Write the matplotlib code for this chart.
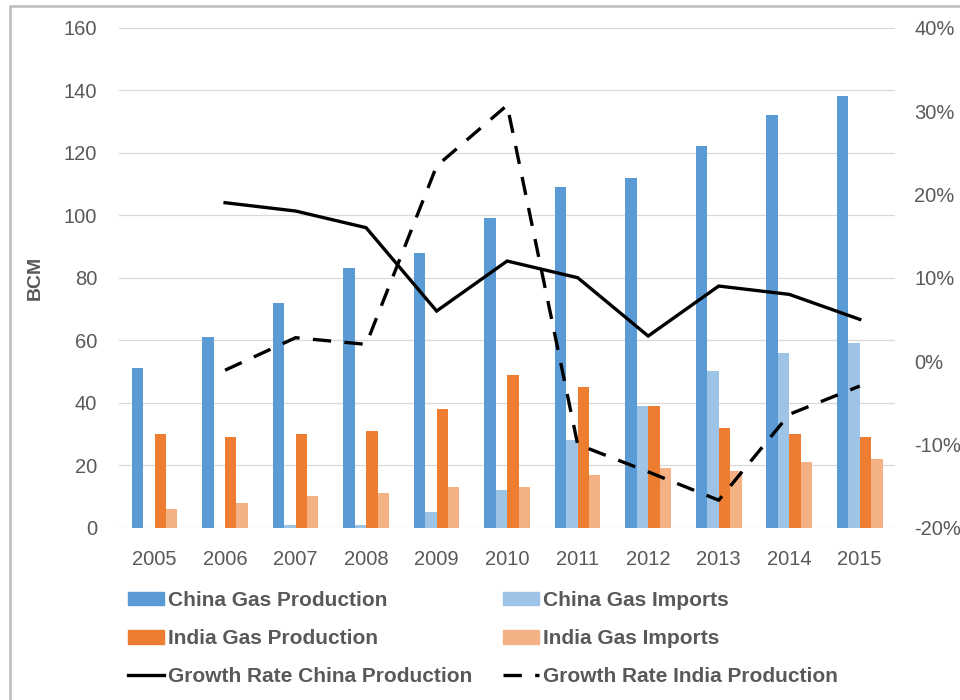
import matplotlib
matplotlib.use("Agg")
import matplotlib.pyplot as plt
import numpy as np
from matplotlib.patches import Rectangle
from matplotlib.lines import Line2D
from matplotlib.ticker import PercentFormatter

plt.rcParams['font.family'] = ['Liberation Sans', 'DejaVu Sans']
plt.rcParams['axes.unicode_minus'] = False

# data
years = ['2005', '2006', '2007', '2008', '2009', '2010',
         '2011', '2012', '2013', '2014', '2015']
china_prod = [51, 61, 72, 83, 88, 99, 109, 112, 122, 132, 138]
china_imp = [0, 0, 1, 1, 5, 12, 28, 39, 50, 56, 59]
india_prod = [30, 29, 30, 31, 38, 49, 45, 39, 32, 30, 29]
india_imp = [6, 8, 10, 11, 13, 13, 17, 19, 18, 21, 22]
# growth rates start in 2006
growth_years = years[1:]
growth_china = [0.19, 0.18, 0.16, 0.06, 0.12, 0.10, 0.03, 0.09, 0.08, 0.05]
growth_india = [-0.011, 0.028, 0.020, 0.234, 0.307, -0.100, -0.133, -0.167, -0.064, -0.030]

c_cp = '#5B9BD5'
c_ci = '#9DC3E6'
c_ip = '#ED7D31'
c_ii = '#F4B183'
grey = '#595959'

W, H = 960, 700
fig = plt.figure(figsize=(W / 100, H / 100), dpi=100)

# plot area in pixels
left, right, top, bottom = 119.3, 895, 27.7, 527.7
ax = fig.add_axes([left / W, 1 - bottom / H, (right - left) / W, (bottom - top) / H])

x = np.arange(len(years))
bw = 0.1617
ax.bar(x - 1.5 * bw, china_prod, bw, color=c_cp, zorder=3)
ax.bar(x - 0.5 * bw, china_imp, bw, color=c_ci, zorder=3)
ax.bar(x + 0.5 * bw, india_prod, bw, color=c_ip, zorder=3)
ax.bar(x + 1.5 * bw, india_imp, bw, color=c_ii, zorder=3)

ax.set_xlim(-0.5, len(years) - 0.5)
ax.set_ylim(0, 160)
ax.set_yticks(range(0, 161, 20))
ax.set_xticks(x)
ax.set_xticklabels(years)
ax.grid(axis='y', color='#D9D9D9', lw=0.9, zorder=0)
ax.set_axisbelow(True)
for s in ax.spines.values():
    s.set_visible(False)
ax.tick_params(axis='both', length=0, labelsize=14.5, labelcolor=grey)
ax.tick_params(axis='y', pad=16)
ax.tick_params(axis='x', pad=16)
ax.set_ylabel('BCM', fontsize=14, fontweight='bold', color=grey)
ax.yaxis.set_label_coords((44 - left) / (right - left), 0.5)

# growth rates on the right axis
ax2 = ax.twinx()
gx = np.arange(1, len(years))
ax2.plot(gx, growth_china, color='black', lw=2.4, solid_joinstyle='miter')
ax2.plot(gx, growth_india, color='black', lw=2.4, linestyle=(0, (5.5, 4)))
ax2.set_ylim(-0.2, 0.4)
ax2.set_yticks(np.arange(-0.2, 0.41, 0.1))
ax2.yaxis.set_major_formatter(PercentFormatter(1.0, decimals=0))
for s in ax2.spines.values():
    s.set_visible(False)
ax2.tick_params(axis='y', length=0, labelsize=14.5, labelcolor=grey, pad=14)

# legend, two columns placed by hand
h_cp = Rectangle((0, 0), 1, 1, color=c_cp)
h_ci = Rectangle((0, 0), 1, 1, color=c_ci)
h_ip = Rectangle((0, 0), 1, 1, color=c_ip)
h_ii = Rectangle((0, 0), 1, 1, color=c_ii)
h_gc = Line2D([], [], color='black', lw=2.4)
h_gi = Line2D([], [], color='black', lw=2.4, linestyle=(0, (5.5, 4)))

leg_kw = dict(loc='upper left', frameon=False, borderpad=0, borderaxespad=0,
              handlelength=1.72, handleheight=0.62, handletextpad=0.2,
              labelspacing=0.92, labelcolor=grey,
              prop={'size': 15, 'weight': 'bold'})
fig.legend([h_cp, h_ip, h_gc],
           ['China Gas Production', 'India Gas Production', 'Growth Rate China Production'],
           bbox_to_anchor=(128 / W, 1 - 591 / H), **leg_kw)
fig.legend([h_ci, h_ii, h_gi],
           ['China Gas Imports', 'India Gas Imports', 'Growth Rate India Production'],
           bbox_to_anchor=(503 / W, 1 - 591 / H), **leg_kw)

# chart border (only the top and left edges show)
fig.add_artist(Rectangle((10 / W, -0.05), 1.2, 1 - 5.5 / H + 0.05,
                         transform=fig.transFigure, fill=False,
                         ec='#BFBFBF', lw=1.9))

fig.savefig('out.png', dpi=100)
